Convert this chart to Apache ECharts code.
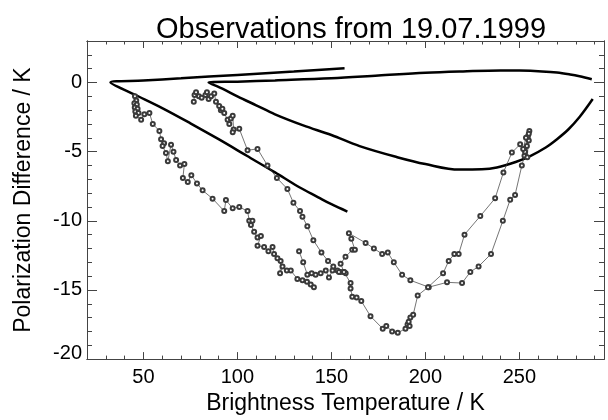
<!DOCTYPE html>
<html>
<head>
<meta charset="utf-8">
<script src="https://cdn.jsdelivr.net/npm/echarts@6/dist/echarts.min.js"></script>
<style>html,body{margin:0;padding:0;background:#fff}#c{width:608px;height:420px}</style>
</head>
<body>
<div id="c"></div>
<script>
const titleText = 'Observations from 19.07.1999';
const xName = 'Brightness Temperature / K';
const yName = 'Polarization Difference / K';
const xMajorTicks = [50, 100, 150, 200, 250];
const xMinorTicks = [30, 40, 60, 70, 80, 90, 110, 120, 130, 140, 160, 170, 180, 190, 210, 220, 230, 240, 260, 270, 280, 290];
const yMajorTicks = [-20, -15, -10, -5, 0];
const yMinorTicks = [-19, -18, -17, -16, -14, -13, -12, -11, -9, -8, -7, -6, -4, -3, -2, -1, 1, 2];

// thick model curves
const modelWedge = [[157,1.03],[130,0.8],[100,0.55],[70,0.3],[50,0.14],[32.5,0],[45,-0.85],[60,-1.85],[75,-2.95],[90,-4.1],[105,-5.3],[120,-6.5],[132,-7.5],[143,-8.3],[150,-8.8],[158.5,-9.33]];
const modelLoop = [[288.5,0.24],[282,0.45],[277,0.58],[270,0.72],[262,0.8],[250,0.86],[240,0.87],[220,0.8],[200,0.7],[175,0.5],[150,0.3],[120,0.15],[100,0.06],[84.7,0.0],[92,-0.45],[100,-1.0],[110,-1.65],[120,-2.3],[135,-3.1],[150,-3.8],[165,-4.6],[185,-5.4],[200,-5.9],[218,-6.3],[230,-6.28],[238,-6.15],[248,-5.75],[256,-5.3],[264,-4.7],[270,-4.1],[276,-3.4],[282,-2.5],[289,-1.2]];

// observation tracks
const obsTrack1 = [[45.5,-1.0],[46.2,-1.3],[45.2,-1.5],[46.5,-1.6],[45.4,-1.8],[46.9,-1.9],[45.7,-2.1],[47.4,-2.2],[46.0,-2.4],[48.8,-2.7],[50.5,-2.3],[53.2,-2.2],[55.0,-3.0],[58.5,-3.5],[59.4,-4.1],[61.0,-4.4],[60.2,-4.6],[62.0,-5.1],[63.0,-5.7],[64.7,-4.5],[66.0,-5.0],[67.4,-5.6],[69.5,-6.0],[71.8,-5.9],[71.0,-6.9],[73.6,-7.2],[75.5,-6.7],[78.5,-7.3],[81.5,-7.8],[86.8,-8.4],[93.0,-9.3],[93.9,-8.5],[97.5,-9.1],[101.0,-9.0],[105.4,-9.3],[106.3,-10.0],[108.0,-10.0],[107.2,-10.3],[108.9,-10.8],[110.7,-11.2],[112.5,-11.1],[110.7,-11.8],[114.2,-11.9],[116.5,-12.2],[118.7,-11.9],[119.5,-12.4],[121.3,-12.7],[123.0,-12.9],[122.7,-13.8],[124.0,-13.3],[126.3,-13.6],[128.4,-13.6],[131.9,-14.2],[134.6,-14.3],[137.0,-14.4],[139.0,-14.6],[140.7,-14.8]];
const obsTrack1b = [[132.8,-12.2],[135.0,-13.0],[137.2,-13.9],[139.5,-13.8],[141.6,-13.9],[144.3,-13.8],[147.0,-13.6],[148.7,-14.1],[150.6,-13.6],[153.2,-13.6],[154.9,-13.7]];
const obsTrack2 = [[76.8,-1.4],[77.2,-0.9],[78.0,-0.7],[79.5,-1.0],[81.0,-1.1],[83.0,-0.9],[83.8,-0.7],[84.7,-1.2],[86.0,-1.0],[87.7,-0.8],[88.6,-1.4],[90.3,-1.7],[91.2,-2.0],[92.0,-1.9],[93.0,-2.2],[94.8,-2.7],[95.7,-3.0],[96.5,-2.6],[97.5,-2.4],[98.0,-3.4],[97.5,-3.6],[101.0,-3.35],[105.4,-4.9],[110.7,-4.8],[116.0,-6.0],[121.0,-6.9],[126.6,-7.7],[129.8,-8.7],[133.3,-9.3],[134.6,-9.7],[137.2,-10.4],[140.4,-11.4],[144.7,-12.3],[148.2,-12.9],[151.0,-13.3],[154.0,-13.7],[156.7,-13.7],[157.6,-13.8],[154.9,-13.1],[157.5,-12.6],[161.1,-12.1],[162.5,-12.1],[160.6,-11.3],[159.3,-10.9],[168.2,-11.6],[172.6,-12.0],[177.0,-12.4],[180.0,-12.3],[183.2,-13.0],[187.6,-13.9],[192.0,-14.3],[201.8,-14.8],[211.5,-14.45],[219.5,-14.5],[223.9,-13.7],[228.3,-13.3],[234.9,-12.4],[241.2,-10.0],[245.1,-8.47],[247.7,-8.13],[251.3,-6.0],[252.7,-5.3],[254.0,-4.6],[253.0,-5.0],[255.0,-4.2],[254.5,-3.9],[255.3,-3.5]];
const obsTrack3 = [[156.7,-13.7],[160.2,-14.5],[160.2,-14.9],[161.1,-15.5],[163.4,-15.55],[165.9,-15.8],[170.8,-16.9],[177.3,-17.8],[179.2,-17.6],[182.3,-18.0],[185.3,-18.1],[189.4,-17.8],[190.5,-17.5],[191.1,-17.3],[191.6,-17.6],[192.0,-17.0],[193.5,-16.8],[195.9,-15.4],[201.4,-14.8],[209.4,-13.8],[212.4,-12.9],[215.4,-12.4],[217.7,-12.4],[220.8,-11.0],[229.2,-9.66],[237.1,-8.37],[241.5,-6.5],[246.0,-5.07],[250.4,-4.47],[252.0,-4.8],[253.5,-4.0],[254.2,-5.4],[255.0,-3.7]];

const X_MIN = 20, X_MAX = 295, Y_MIN = -20, Y_MAX = 3;
const axisColor = '#444';
const font = 'Liberation Sans, Arial, Helvetica, sans-serif';

function xAx(pos, ticks, len, labels) {
  return {
    type: 'value', position: pos, min: X_MIN, max: X_MAX,
    axisLine: { show: true, onZero: false, lineStyle: { color: axisColor, width: 1 } },
    axisTick: { show: true, inside: true, length: len, customValues: ticks, lineStyle: { color: axisColor } },
    axisLabel: labels ? { show: true, customValues: ticks, color: '#000', fontSize: 20, fontFamily: font, margin: 8 } : { show: false },
    splitLine: { show: false },
    name: labels ? xName : '', nameLocation: 'middle', nameGap: 27,
    nameTextStyle: { color: '#000', fontSize: 23, fontFamily: font }
  };
}
function yAx(pos, ticks, len, labels) {
  return {
    type: 'value', position: pos, min: Y_MIN, max: Y_MAX,
    axisLine: { show: true, onZero: false, lineStyle: { color: axisColor, width: 1 } },
    axisTick: { show: true, inside: true, length: len, customValues: ticks, lineStyle: { color: axisColor } },
    axisLabel: labels ? {
      show: true, customValues: ticks, color: '#000', fontSize: 20, fontFamily: font, margin: 5,
      formatter: v => v === Y_MIN ? '{lo|' + v + '}' : String(v),
      rich: { lo: { fontSize: 20, fontFamily: font, color: '#000', padding: [0, 0, 12, 0] } }
    } : { show: false },
    splitLine: { show: false },
    name: labels ? yName : '', nameLocation: 'middle', nameGap: 52, nameRotate: 90,
    nameTextStyle: { color: '#000', fontSize: 23, fontFamily: font }
  };
}

function obsSeries(data) {
  return {
    type: 'line', data: data, xAxisIndex: 0, yAxisIndex: 0,
    symbol: 'emptyCircle', symbolSize: 4, showAllSymbol: true,
    lineStyle: { color: '#3a3a3a', width: 0.7 },
    itemStyle: { color: '#3a3a3a', borderWidth: 0.6 },
    silent: true
  };
}
function modelSeries(data) {
  return {
    type: 'line', data: data, xAxisIndex: 0, yAxisIndex: 0,
    showSymbol: false, symbol: 'none', smooth: 0.35,
    lineStyle: { color: '#000', width: 2.5 }, silent: true
  };
}

const chart = echarts.init(document.getElementById('c'), null, { renderer: 'canvas' });
chart.setOption({
  animation: false,
  backgroundColor: '#fff',
  title: {
    text: titleText, left: 346, top: 10, textAlign: 'center',
    textStyle: { color: '#000', fontSize: 29, fontWeight: 'normal', fontFamily: font }
  },
  grid: { left: 87, right: 4, top: 41, bottom: 58, containLabel: false },
  xAxis: [
    xAx('bottom', xMajorTicks, 7, true),
    xAx('top', xMajorTicks, 7, false),
    xAx('bottom', xMinorTicks, 3.5, false),
    xAx('top', xMinorTicks, 3.5, false)
  ],
  yAxis: [
    yAx('left', yMajorTicks, 10, true),
    yAx('right', yMajorTicks, 10, false),
    yAx('left', yMinorTicks, 5, false),
    yAx('right', yMinorTicks, 5, false)
  ],
  series: [
    modelSeries(modelWedge),
    modelSeries(modelLoop),
    obsSeries(obsTrack1),
    obsSeries(obsTrack1b),
    obsSeries(obsTrack2),
    obsSeries(obsTrack3)
  ]
});
</script>
</body>
</html>
